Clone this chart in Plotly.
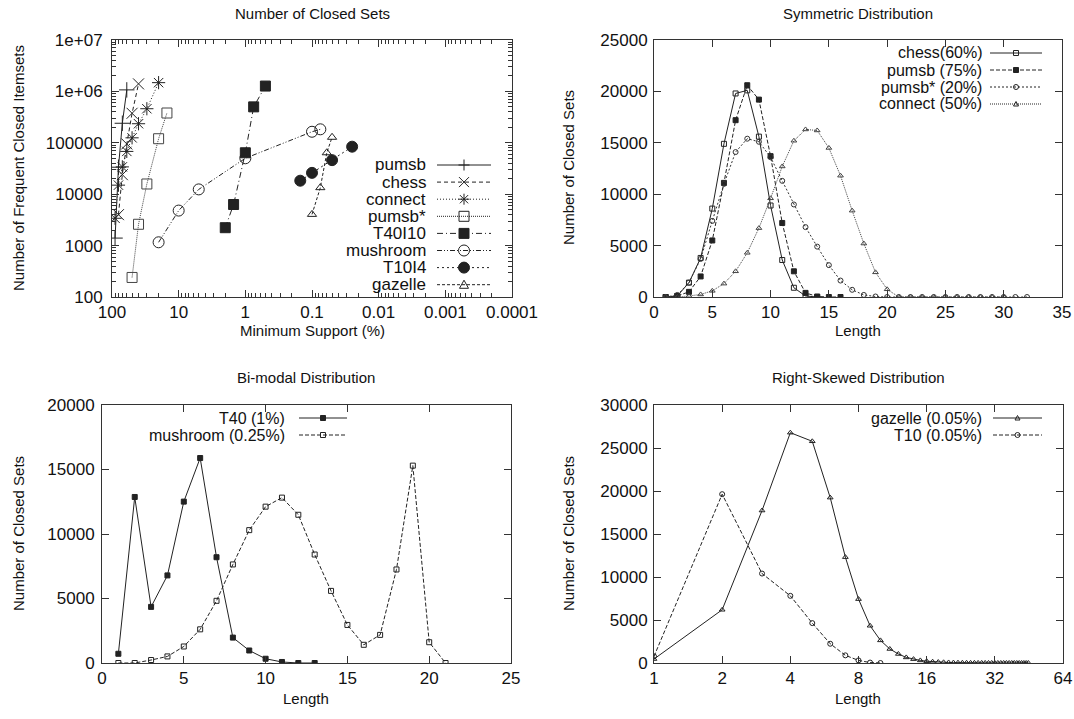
import plotly.graph_objects as go

# ---------------- Data ----------------
# Panel 1: Number of Closed Sets (x = minimum support %, y = number of closed itemsets)
pumsb_sup = [90, 80, 70, 60]
pumsb_cnt = [1400, 33500, 240000, 1070000]
chess_sup = [80, 70, 60, 50, 40]
chess_cnt = [4000, 24000, 95000, 375000, 1400000]
connect_sup = [90, 80, 70, 60, 50, 40, 30, 20]
connect_cnt = [3400, 15000, 34000, 68000, 125000, 235000, 460000, 1480000]
pumsbs_sup = [50, 40, 30, 20, 15]
pumsbs_cnt = [240, 2600, 15800, 120000, 380000]
t40i10_sup = [2, 1.5, 1, 0.75, 0.5]
t40i10_cnt = [2230, 6300, 64000, 500000, 1270000]
mushroom_sup = [20, 10, 5, 1, 0.1, 0.075]
mushroom_cnt = [1160, 4800, 12400, 50000, 164000, 183000]
t10i4_sup = [0.15, 0.1, 0.05, 0.025]
t10i4_cnt = [18300, 26000, 46000, 84000]
gazelle_sup = [0.1, 0.075, 0.06, 0.05]
gazelle_cnt = [4050, 13400, 64000, 128000]

# Panel 2: Symmetric Distribution
sym_chess = [0, 100, 1400, 3800, 8600, 14900, 19800, 20100, 15600, 8900, 3600, 900, 100, 0]
sym_pumsb = [0, 100, 500, 2000, 5500, 11100, 17200, 20600, 19200, 13700, 7200, 2500, 400, 50, 0, 0]
sym_pumsbs = [0, 200, 1400, 3700, 7400, 11000, 14100, 15400, 15100, 13600, 11300, 9000, 6800, 4900,
              3100, 1600, 700, 200, 50, 0, 0, 0, 0, 0, 0, 0, 0, 0, 0, 0, 0, 0]
sym_connect = [0, 0, 100, 250, 600, 1300, 2500, 4300, 6700, 9600, 12700, 15200, 16300, 16200, 14500,
               11800, 8400, 5200, 2400, 750, 0, 0, 0, 0, 0, 0, 0, 0, 0, 0]

# Panel 3: Bi-modal Distribution
bi_t40 = [715, 12870, 4350, 6790, 12510, 15890, 8200, 1970, 970, 330, 80, 0, 0]
bi_mushroom = [0, 0, 230, 510, 1280, 2610, 4820, 7640, 10300, 12120, 12820, 11490, 8410, 5590,
               2950, 1410, 2180, 7250, 15300, 1610, 0]

# Panel 4: Right-Skewed Distribution
rs_gazelle = [460, 6190, 17730, 26780, 25780, 19230, 12310, 7430, 4330, 2630, 1630, 1050, 650, 450,
              300, 210, 150, 110, 80, 60, 45, 35, 28, 22, 18, 15, 12, 10, 8, 7, 6, 5, 4, 4, 3, 3,
              2, 2, 2, 1, 1, 1, 1, 1, 1]
rs_t10 = [770, 19630, 10400, 7810, 4640, 2240, 890, 300, 50, 0]

# Tick labels
x1_ticks = [100, 10, 1, 0.1, 0.01, 0.001, 0.0001]
x1_labels = ["100", "10", "1", "0.1", "0.01", "0.001", "0.0001"]
y1_ticks = [100, 1000, 10000, 100000, 1000000, 10000000]
y1_labels = ["100", "1000", "10000", "100000", "1e+06", "1e+07"]
x4_ticks = [1, 2, 4, 8, 16, 32, 64]
x4_labels = ["1", "2", "4", "8", "16", "32", "64"]


def lengths(vals):
    return list(range(1, len(vals) + 1))


W, H = 1074, 719
INK = "#222222"
FONT = "Liberation Sans, Arial, sans-serif"

fig = go.Figure()
shapes = []
annotations = []


def px(x):
    return x / W


def py(y):
    return 1 - y / H


# Legend glyph shapes (layout only, in paper pixels)
def glyph(sym, cx, cy, s, color):
    h = s / 2
    filled = sym in ("square", "circle")
    fill = color if filled else "rgba(0,0,0,0)"
    base = dict(xref="paper", yref="paper", layer="above", line=dict(color=color, width=1))
    if sym in ("square", "square-open"):
        shapes.append(dict(base, type="rect", x0=px(cx - h), x1=px(cx + h), y0=py(cy + h), y1=py(cy - h), fillcolor=fill))
    elif sym in ("circle", "circle-open"):
        shapes.append(dict(base, type="circle", x0=px(cx - h), x1=px(cx + h), y0=py(cy + h), y1=py(cy - h), fillcolor=fill))
    else:
        if sym == "triangle":
            path = f"M{px(cx)},{py(cy - h)} L{px(cx + h)},{py(cy + h * 0.8)} L{px(cx - h)},{py(cy + h * 0.8)} Z"
        elif sym == "cross":
            path = f"M{px(cx - h)},{py(cy)} L{px(cx + h)},{py(cy)} M{px(cx)},{py(cy - h)} L{px(cx)},{py(cy + h)}"
        elif sym == "x":
            path = f"M{px(cx - h)},{py(cy - h)} L{px(cx + h)},{py(cy + h)} M{px(cx - h)},{py(cy + h)} L{px(cx + h)},{py(cy - h)}"
        else:  # asterisk
            k = h * 0.75
            path = (f"M{px(cx - h)},{py(cy)} L{px(cx + h)},{py(cy)} M{px(cx)},{py(cy - h)} L{px(cx)},{py(cy + h)} "
                    f"M{px(cx - k)},{py(cy - k)} L{px(cx + k)},{py(cy + k)} M{px(cx - k)},{py(cy + k)} L{px(cx + k)},{py(cy - k)}")
        shapes.append(dict(base, type="path", path=path, fillcolor="rgba(0,0,0,0)"))


def legend_entry(text, text_right, sx0, sx1, y, dash, sym, s, color=INK, size=17):
    annotations.append(dict(text=text, x=px(text_right), y=py(y), xref="paper", yref="paper",
                            showarrow=False, xanchor="right", yanchor="middle", borderpad=0,
                            font=dict(family=FONT, size=size, color="#111")))
    shapes.append(dict(type="line", xref="paper", yref="paper", layer="above",
                       x0=px(sx0), x1=px(sx1), y0=py(y), y1=py(y),
                       line=dict(color=color, width=1, dash=dash)))
    glyph(sym, (sx0 + sx1) / 2, y, s, color)


def add(x, y, name, dash, symbol, size, xa, ya, color=INK):
    fig.add_trace(go.Scatter(
        x=x, y=y, name=name, mode="lines+markers", xaxis=xa, yaxis=ya, showlegend=False,
        line=dict(color=color, width=1, dash=dash),
        marker=dict(symbol=symbol, size=size, color=color, line=dict(color=color, width=1)),
    ))


# Styles
D_CHESS = "4px,3px"
D_CONNECT = "1px,2px"
D_PSTAR = "1px,1px"
D_T40 = "6px,3px,1px,3px"
D_MUSH = "5px,2px,1px,2px,1px,2px"
D_T10 = "2px,3px"
D_GAZ = "3px,2px"

# Panel 1
add(pumsb_sup, pumsb_cnt, "pumsb", "solid", "cross-thin-open", 11, "x", "y")
add(chess_sup, chess_cnt, "chess", D_CHESS, "x-thin-open", 11, "x", "y")
add(connect_sup, connect_cnt, "connect", D_CONNECT, "asterisk-open", 11, "x", "y")
add(pumsbs_sup, pumsbs_cnt, "pumsb*", D_PSTAR, "square-open", 10, "x", "y", color="#444")
add(t40i10_sup, t40i10_cnt, "T40I10", D_T40, "square", 10, "x", "y")
add(mushroom_sup, mushroom_cnt, "mushroom", D_MUSH, "circle-open", 11, "x", "y")
add(t10i4_sup, t10i4_cnt, "T10I4", D_T10, "circle", 11, "x", "y")
add(gazelle_sup, gazelle_cnt, "gazelle", D_GAZ, "triangle-up-open", 8, "x", "y")

# Panel 2
add(lengths(sym_chess), sym_chess, "chess(60%)", "solid", "square-open", 5, "x2", "y2")
add(lengths(sym_pumsb), sym_pumsb, "pumsb (75%)", "4px,2px", "square", 5, "x2", "y2")
add(lengths(sym_pumsbs), sym_pumsbs, "pumsb* (20%)", "2px,2px", "circle-open", 5, "x2", "y2", color="#333")
add(lengths(sym_connect), sym_connect, "connect (50%)", "1px,1px", "triangle-up-open", 5, "x2", "y2", color="#444")

# Panel 3
add(lengths(bi_t40), bi_t40, "T40 (1%)", "solid", "square", 5, "x3", "y3")
add(lengths(bi_mushroom), bi_mushroom, "mushroom (0.25%)", "4px,2px", "square-open", 5, "x3", "y3")

# Panel 4
add(lengths(rs_gazelle), rs_gazelle, "gazelle (0.05%)", "solid", "triangle-up-open", 5, "x4", "y4")
add(lengths(rs_t10), rs_t10, "T10 (0.05%)", "4px,2px", "circle-open", 5, "x4", "y4")

# Legends (gnuplot style: text right-aligned, sample on the right)
for i, (t, d, s, sz) in enumerate([("pumsb", "solid", "cross", 11), ("chess", D_CHESS, "x", 10),
                                    ("connect", D_CONNECT, "asterisk", 11), ("pumsb*", D_PSTAR, "square-open", 10),
                                    ("T40I10", D_T40, "square", 10), ("mushroom", D_MUSH, "circle-open", 11),
                                    ("T10I4", D_T10, "circle", 11), ("gazelle", D_GAZ, "triangle", 9)]):
    legend_entry(t, 427, 437, 491, 165 + i * 17.1, d, s, sz)
for i, (t, d, s) in enumerate([("chess(60%)", "solid", "square-open"), ("pumsb (75%)", "4px,2px", "square"),
                               ("pumsb* (20%)", "2px,2px", "circle-open"), ("connect (50%)", "1px,1px", "triangle")]):
    legend_entry(t, 983, 990, 1042, 53 + i * 17, d, s, 5, size=16)
for i, (t, d, s) in enumerate([("T40 (1%)", "solid", "square"), ("mushroom (0.25%)", "4px,2px", "square-open")]):
    legend_entry(t, 286, 299, 347, 418 + i * 17, d, s, 5, size=16)
for i, (t, d, s) in enumerate([("gazelle (0.05%)", "solid", "triangle"), ("T10 (0.05%)", "4px,2px", "circle-open")]):
    legend_entry(t, 983, 993, 1042, 418 + i * 17, d, s, 5, size=16)


def dx(a, b):
    return [a / W, b / W]


def dy(top, bottom):
    return [1 - bottom / H, 1 - top / H]


axis_common = dict(
    showline=True, linecolor="#333", linewidth=1, mirror="ticks", ticks="inside",
    ticklen=7, tickcolor="#333", showgrid=False, zeroline=False, automargin=False,
    tickfont=dict(family=FONT, size=17, color="#111"),
)
minor_common = dict(ticks="inside", ticklen=4, tickcolor="#333", showgrid=False)

x_minor = [m * d for d in [0.0001, 0.001, 0.01, 0.1, 1, 10] for m in range(2, 10)]
y_minor = [m * d for d in [100, 1000, 10000, 100000, 1000000] for m in range(2, 10)]

fig.update_layout(
    width=W, height=H, margin=dict(l=0, r=0, t=0, b=0, autoexpand=False),
    paper_bgcolor="white", plot_bgcolor="white",
    font=dict(family=FONT, color="#111"),
    showlegend=False,
    xaxis=dict(axis_common, type="log", range=[2, -4], domain=dx(112, 512), anchor="y",
               tickmode="array", tickvals=x1_ticks, ticktext=x1_labels,
               minor=dict(minor_common, tickmode="array", tickvals=x_minor)),
    yaxis=dict(axis_common, type="log", range=[2, 7], domain=dy(40, 297), anchor="x",
               tickmode="array", tickvals=y1_ticks, ticktext=y1_labels, ticklabelstandoff=5,
               minor=dict(minor_common, tickmode="array", tickvals=y_minor)),
    xaxis2=dict(axis_common, range=[0, 35], dtick=5, domain=dx(654, 1062), anchor="y2"),
    yaxis2=dict(axis_common, range=[0, 25000], dtick=5000, tickformat="d", ticklabelstandoff=2,
                domain=dy(40, 297), anchor="x2"),
    xaxis3=dict(axis_common, range=[0, 25], dtick=5, domain=dx(102, 511), anchor="y3"),
    yaxis3=dict(axis_common, range=[0, 20000], dtick=5000, tickformat="d", ticklabelstandoff=3,
                domain=dy(405, 663), anchor="x3"),
    xaxis4=dict(axis_common, type="log", range=[0, 1.80618], domain=dx(654, 1063), anchor="y4",
                tickmode="array", tickvals=x4_ticks, ticktext=x4_labels),
    yaxis4=dict(axis_common, range=[0, 30000], dtick=5000, tickformat="d", ticklabelstandoff=2,
                domain=dy(405, 663), anchor="x4"),
)


def ann(text, xp, yp, size=15, angle=0):
    annotations.append(dict(text=text, x=px(xp), y=py(yp), xref="paper", yref="paper",
                            showarrow=False, textangle=angle, xanchor="center", yanchor="middle",
                            font=dict(family=FONT, size=size, color="#111")))


ann("Number of Closed Sets", 312, 14)
ann("Symmetric Distribution", 858, 14)
ann("Bi-modal Distribution", 306, 378)
ann("Right-Skewed Distribution", 858, 378)
ann("Minimum Support (%)", 312, 331)
ann("Length", 858, 331)
ann("Length", 306, 698)
ann("Length", 858, 698)
ann("Number of Frequent Closed Itemsets", 18, 168, angle=-90)
ann("Number of Closed Sets", 568, 168, angle=-90)
ann("Number of Closed Sets", 18, 534, angle=-90)
ann("Number of Closed Sets", 568, 534, angle=-90)

fig.update_layout(shapes=shapes, annotations=annotations)
fig.write_html("out.html", config={"displayModeBar": False},
               post_script="document.body.style.margin='0';document.body.style.padding='0';"
                           "document.body.style.overflow='hidden';")
